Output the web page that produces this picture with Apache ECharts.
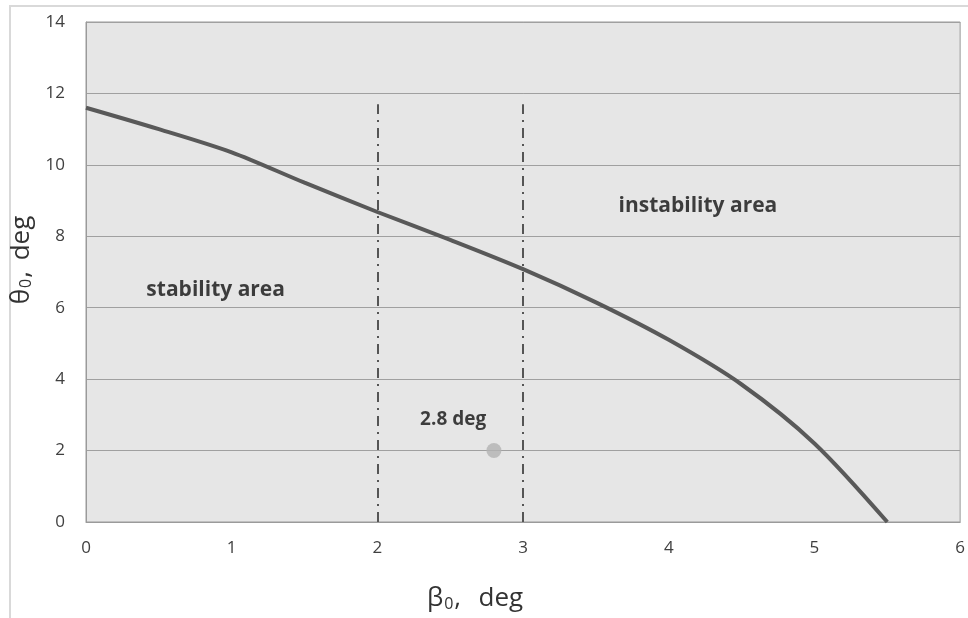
<!DOCTYPE html>
<html>
<head>
<meta charset="utf-8">
<script src="https://cdn.jsdelivr.net/npm/echarts@6/dist/echarts.min.js"></script>
<style>
  html, body { margin: 0; padding: 0; background: #fff; }
  #main { width: 968px; height: 618px; }
</style>
</head>
<body>
<div id="main"></div>
<script>
// boundary curve
var beta = [0, 0.5, 1, 1.5, 2, 2.5, 3, 3.5, 4, 4.5, 5, 5.5];
var theta = [11.6, 11.0, 10.35, 9.5, 8.68, 7.9, 7.08, 6.15, 5.1, 3.85, 2.2, 0];

// dash-dot markers at beta = 2 and 3
var guideX = [2, 3];
var guideTop = 11.7;

// the operating point
var point = [2.8, 2];
var pointLabel = '2.8 deg';

// area texts [beta, theta, text]
var areaLabels = [
  [0.89, 6.5, 'stability area'],
  [4.2, 8.85, 'instability area']
];
var pointLabelPos = [2.52, 2.86];

var chart = echarts.init(document.getElementById('main'));

var guideLines = guideX.map(function (x) {
  return [{ coord: [x, 0] }, { coord: [x, guideTop] }];
});

var titleRich = {
  a: { fontSize: 26, color: '#333', fontFamily: 'Open Sans' },
  s: { fontSize: 26, color: '#333', fontFamily: 'Open Sans', padding: [0, 2, 0, 2] },
  b: { fontSize: 16, color: '#333', fontFamily: 'Open Sans', verticalAlign: 'bottom', padding: [9, 1, 0, 1] }
};

var labelStyle = {
  show: true,
  position: 'inside',
  formatter: function (p) { return p.data[2]; },
  fontFamily: 'Open Sans',
  fontWeight: 'bold',
  fontSize: 21,
  color: '#111'
};

chart.setOption({
  animation: false,
  textStyle: { fontFamily: 'Open Sans' },
  graphic: [{
    type: 'rect',
    shape: { x: 10, y: 6, width: 980, height: 640 },
    style: { fill: 'none', stroke: '#d9d9d9', lineWidth: 2 },
    silent: true
  }],
  grid: {
    left: 86, top: 22, right: 2, bottom: 96,
    show: true,
    backgroundColor: '#e6e6e6',
    borderColor: '#9a9a9a',
    borderWidth: 1
  },
  xAxis: {
    type: 'value',
    min: 0, max: 6, interval: 1,
    axisLine: { show: true, lineStyle: { color: '#9a9a9a' } },
    axisTick: { show: false },
    splitLine: { show: false },
    axisLabel: { color: '#404040', fontSize: 17, margin: 18 },
    name: '{a|β}{b|0}{a|,}{s| }{a| deg}',
    nameLocation: 'middle',
    nameGap: 64,
    nameTextStyle: {
      padding: [0, 96, 0, 0],
      rich: titleRich
    }
  },
  yAxis: {
    type: 'value',
    min: 0, max: 14, interval: 2,
    axisLine: { show: true, lineStyle: { color: '#9a9a9a' } },
    axisTick: { show: false },
    splitLine: { show: true, lineStyle: { color: '#a0a0a0', width: 1 } },
    axisLabel: { color: '#404040', fontSize: 17, margin: 21 },
    name: '{a|θ}{b|0}{a|,}{s| }{a|deg}',
    nameLocation: 'middle',
    nameGap: 40,
    nameTextStyle: {
      padding: [0, 0, 0, 24],
      rich: titleRich
    }
  },
  series: [
    {
      type: 'line',
      data: beta.map(function (b, i) { return [b, theta[i]]; }),
      smooth: 0.3,
      showSymbol: false,
      lineStyle: { color: '#595959', width: 4 },
      markLine: {
        silent: true,
        symbol: 'none',
        label: { show: false },
        lineStyle: { color: '#555', width: 2, type: [10, 6, 2, 6] },
        data: guideLines
      },
      z: 3
    },
    {
      type: 'scatter',
      data: [point],
      symbolSize: 15,
      itemStyle: { color: '#b3b3b3' },
      z: 4
    },
    {
      type: 'scatter',
      data: areaLabels,
      symbolSize: 0,
      label: labelStyle,
      z: 5
    },
    {
      type: 'scatter',
      data: [pointLabelPos.concat([pointLabel])],
      symbolSize: 0,
      label: Object.assign({}, labelStyle, { fontSize: 19 }),
      z: 5
    }
  ]
});
</script>
</body>
</html>
